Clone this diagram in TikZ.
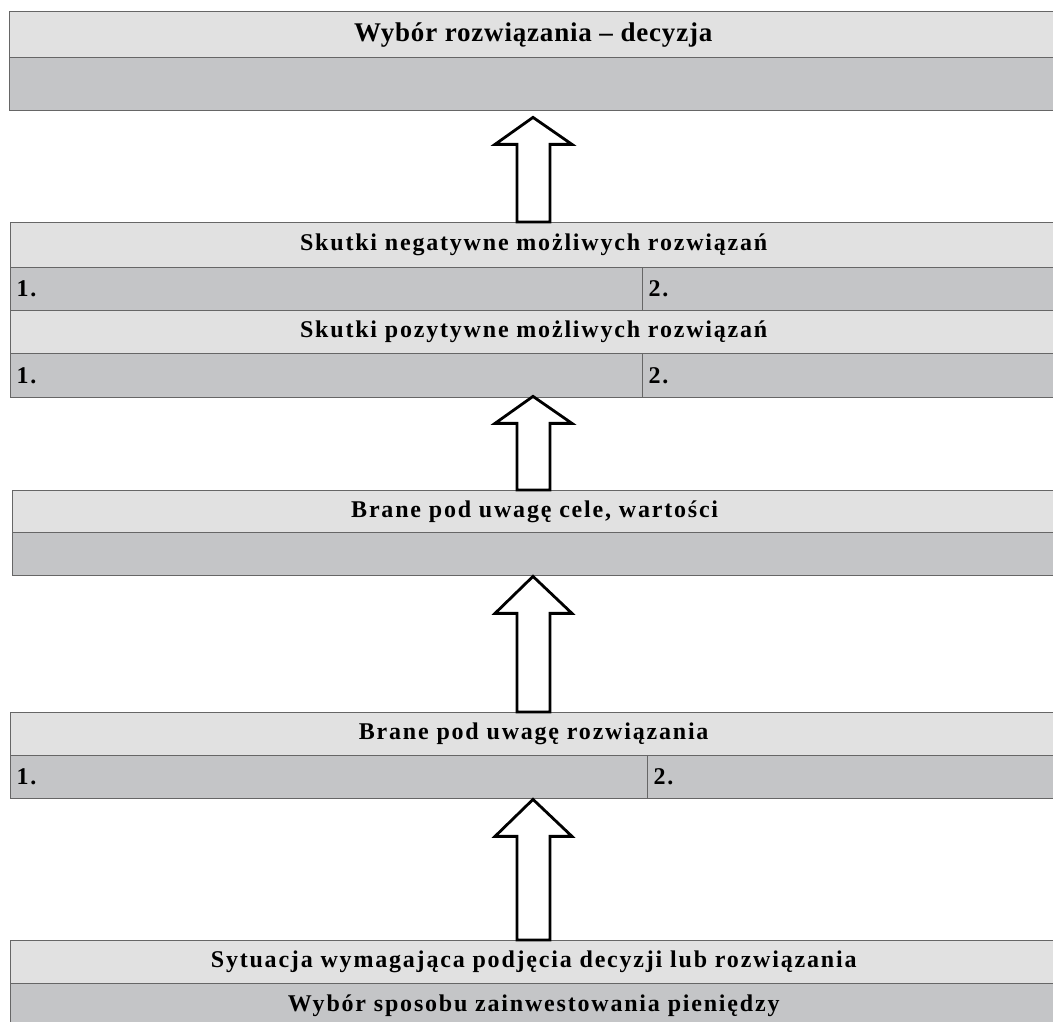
\documentclass[tikz,border=0pt]{standalone}
\usepackage{fontspec}
\setmainfont{Liberation Serif}
\newfontfamily\rowfont{Liberation Serif}[LetterSpace=7.5]
\newfontfamily\titlefont{Liberation Serif}[LetterSpace=3]
\usetikzlibrary{calc}
\definecolor{rowlight}{HTML}{E1E1E1}
\definecolor{rowdark}{HTML}{C4C5C7}
\definecolor{rowline}{HTML}{666666}
\tikzset{
  x=1pt, y=1pt,
  cell/.style={draw=rowline, line width=1.4pt, inner sep=0pt, anchor=north west,
    font=\rowfont\bfseries\fontsize{24}{28}\selectfont},
  headrow/.style={cell, fill=rowlight},
  bodyrow/.style={cell, fill=rowdark},
  numcell/.style={bodyrow, inner xsep=6pt, align=left},
  blockarrow/.style={draw=black, fill=white, line width=2.8pt, line join=miter},
}
% upward block arrow between two row nodes: #1 upper node, #2 lower node,
% #3 gap under the upper node, #4 head length
\newcommand\liftarrow[4]{%
  \draw[blockarrow] let \p1=(#1.south), \p2=(#2.north) in
    (533,\y1-#3) -- (572,\y1-#3-#4) -- (550,\y1-#3-#4) -- (550,\y2)
    -- (517,\y2) -- (517,\y1-#3-#4) -- (495,\y1-#3-#4) -- cycle;}
\begin{document}
\begin{tikzpicture}
\useasboundingbox[fill=white] (0,0) rectangle (1053,1022);

% decision
\node[headrow, minimum width=1047pt, minimum height=46pt,
  font=\titlefont\bfseries\fontsize{27}{31}\selectfont] (decH) at (9,1011) {Wybór rozwiązania – decyzja};
\node[bodyrow, minimum width=1047pt, minimum height=53pt] (decB) at (9,965) {};

% consequences
\node[headrow, minimum width=1046pt, minimum height=45pt] (negH) at (10,800) {Skutki negatywne możliwych rozwiązań};
\node[numcell, text width=620pt, minimum height=43pt] (neg1) at (10,755) {1.};
\node[numcell, text width=402pt, minimum height=43pt] (neg2) at (642,755) {2.};
\node[headrow, minimum width=1046pt, minimum height=43pt] (posH) at (10,712) {Skutki pozytywne możliwych rozwiązań};
\node[numcell, text width=620pt, minimum height=44pt] (pos1) at (10,669) {1.};
\node[numcell, text width=402pt, minimum height=44pt] (pos2) at (642,669) {2.};

% goals and values
\node[headrow, minimum width=1044pt, minimum height=42pt] (valH) at (12,532) {Brane pod uwagę cele, wartości};
\node[bodyrow, minimum width=1044pt, minimum height=43pt] (valB) at (12,490) {};

% options
\node[headrow, minimum width=1046pt, minimum height=43pt] (optH) at (10,310) {Brane pod uwagę rozwiązania};
\node[numcell, text width=625pt, minimum height=43pt] (opt1) at (10,267) {1.};
\node[numcell, text width=397pt, minimum height=43pt] (opt2) at (647,267) {2.};

% situation
\node[headrow, minimum width=1046pt, minimum height=43pt] (sitH) at (10,82) {Sytuacja wymagająca podjęcia decyzji lub rozwiązania};
\node[bodyrow, minimum width=1046pt, minimum height=44pt] (sitB) at (10,39) {Wybór sposobu zainwestowania pieniędzy};

% arrows
\liftarrow{decB}{negH}{6}{27}
\liftarrow{pos1}{valH}{-2}{27}
\liftarrow{valB}{optH}{0}{37}
\liftarrow{opt1}{sitH}{0}{37}
\end{tikzpicture}
\end{document}
